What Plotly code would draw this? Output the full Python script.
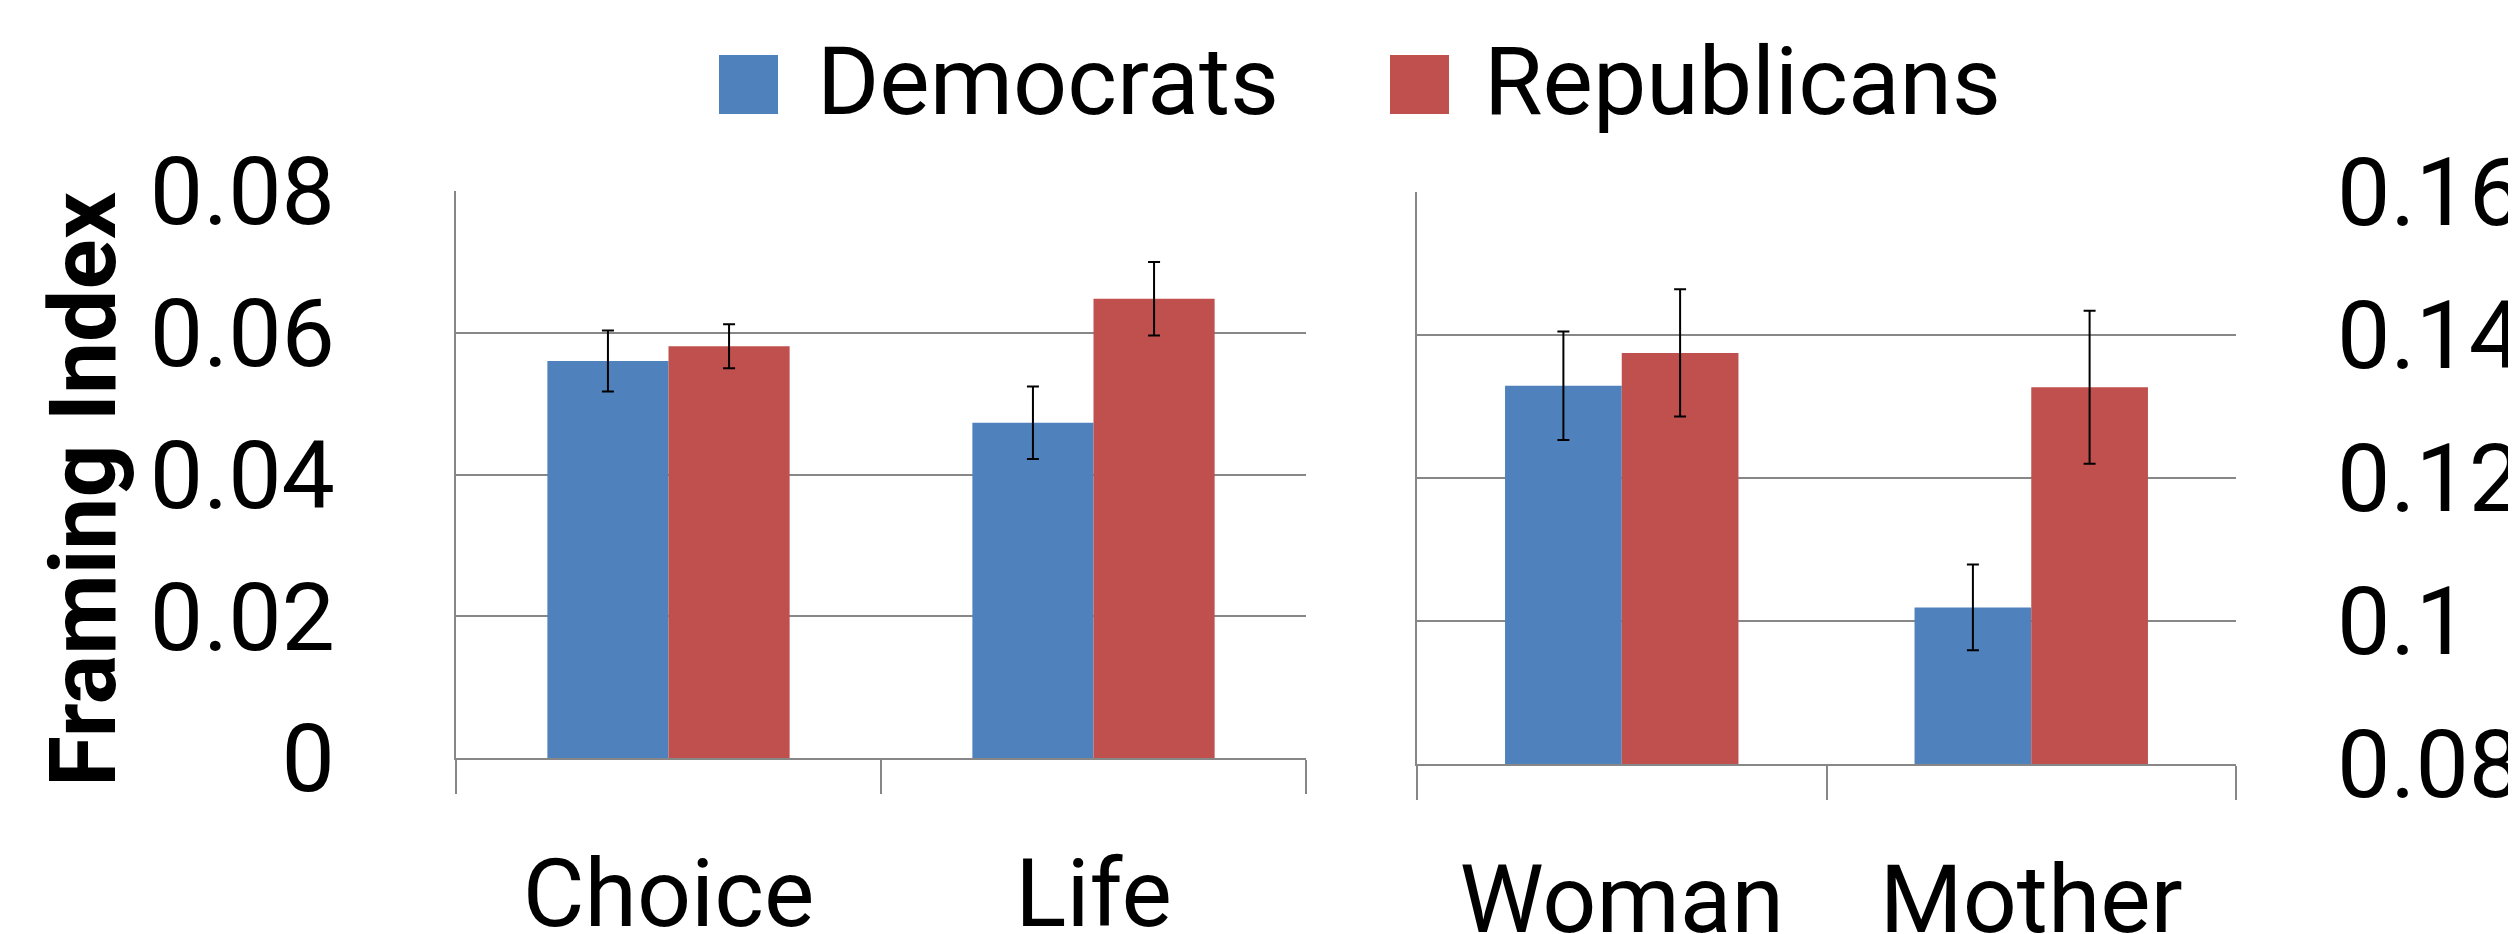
import plotly.graph_objects as go

# ---- data ----
left_categories = ["Choice", "Life"]
right_categories = ["Woman", "Mother"]
dem_left = [0.0560, 0.0473]
rep_left = [0.0581, 0.0648]
dem_left_err = [0.0043, 0.0051]
rep_left_err = [0.0031, 0.0052]
dem_right = [0.1329, 0.1019]
rep_right = [0.1375, 0.1327]
dem_right_err = [0.0076, 0.0060]
rep_right_err = [0.0089, 0.0107]
left_ticks = [0, 0.02, 0.04, 0.06, 0.08]
left_ticktext = ["0", "0.02", "0.04", "0.06", "0.08"]
right_ticks = [0.08, 0.10, 0.12, 0.14, 0.16]
right_ticktext = ["0.08", "0.1", "0.12", "0.14", "0.16"]
series_names = ["Democrats", "Republicans"]
y_title = "Framing Index"

BLUE = "#4F81BD"
RED = "#C0504D"
GRID = "#878787"
FONT = "Roboto, 'Open Sans', sans-serif"
FS = 95

W, H = 2516, 934
OX, OY = 8, 8  # page body margin offset

def err(v):
    return dict(type="data", array=v, visible=True, color="black", thickness=2, width=6)

fig = go.Figure()
fig.add_trace(go.Bar(x=left_categories, y=dem_left, name=series_names[0], marker_color=BLUE,
                     marker_line_width=0, error_y=err(dem_left_err), xaxis="x", yaxis="y"))
fig.add_trace(go.Bar(x=left_categories, y=rep_left, name=series_names[1], marker_color=RED,
                     marker_line_width=0, error_y=err(rep_left_err), xaxis="x", yaxis="y"))
fig.add_trace(go.Bar(x=right_categories, y=dem_right, name=series_names[0], marker_color=BLUE,
                     marker_line_width=0, error_y=err(dem_right_err), xaxis="x2", yaxis="y2"))
fig.add_trace(go.Bar(x=right_categories, y=rep_right, name=series_names[1], marker_color=RED,
                     marker_line_width=0, error_y=err(rep_right_err), xaxis="x2", yaxis="y2"))

def px_x(p):
    return (p - OX) / W

def px_y(p):
    return 1 - (p - OY) / H

xcommon = dict(type="category", tickson="boundaries", ticks="outside", ticklen=34,
               tickcolor=GRID, tickwidth=2, showline=True, linecolor=GRID, linewidth=2,
               showgrid=False, zeroline=False, tickfont=dict(family=FONT, size=FS, color="black"),
               ticklabelstandoff=52, fixedrange=True, automargin=False)

fig.update_layout(
    template="none",
    width=W, height=H,
    margin=dict(l=0, r=0, t=0, b=0, pad=0, autoexpand=False),
    paper_bgcolor="white", plot_bgcolor="white",
    showlegend=False,
    barmode="group", bargap=0.43, bargroupgap=0,
    xaxis=dict(domain=[px_x(456), px_x(1306)], anchor="y", **xcommon),
    xaxis2=dict(domain=[px_x(1417), px_x(2236)], anchor="y2", **xcommon),
    yaxis=dict(domain=[px_y(758), px_y(191)], anchor="x", range=[0, 0.08],
               tickvals=left_ticks, ticktext=left_ticktext, ticks="",
               showgrid=True, gridcolor=GRID, gridwidth=2, zeroline=False,
               showline=True, linecolor=GRID, linewidth=2, automargin=False,
               tickfont=dict(family=FONT, size=FS, color="black"), ticklabelstandoff=100),
    yaxis2=dict(domain=[px_y(764), px_y(192)], anchor="x2", range=[0.08, 0.16], side="left",
                tickvals=right_ticks, showticklabels=False, ticks="",
                showgrid=True, gridcolor=GRID, gridwidth=2, zeroline=False, automargin=False,
                showline=True, linecolor=GRID, linewidth=2),
    yaxis3=dict(domain=[px_y(764), px_y(192)], anchor="x2", overlaying="y2", side="right",
                range=[0.08, 0.16], tickvals=right_ticks, ticktext=right_ticktext, ticks="",
                showgrid=False, zeroline=False, showline=False, automargin=False,
                tickfont=dict(family=FONT, size=FS, color="black"), ticklabelstandoff=100),
)

# dummy trace to activate yaxis3
fig.add_trace(go.Scatter(x=right_categories, y=[None, None], xaxis="x2", yaxis="y3",
                         showlegend=False, hoverinfo="skip"))

# legend (drawn manually for large swatches)
legend_items = [(series_names[0], BLUE, 719, 778, 815), (series_names[1], RED, 1390, 1449, 1482)]
for name, col, x0, x1, tx in legend_items:
    fig.add_shape(type="rect", xref="paper", yref="paper", x0=px_x(x0), x1=px_x(x1),
                  y0=px_y(114), y1=px_y(55), fillcolor=col, line_width=0)
    fig.add_annotation(xref="paper", yref="paper", x=px_x(tx), y=px_y(81), text=name,
                       showarrow=False, xanchor="left", yanchor="middle",
                       font=dict(family=FONT, size=FS, color="black"))

fig.add_annotation(xref="paper", yref="paper", x=px_x(83), y=px_y(490), text="<b>%s</b>" % y_title,
                   textangle=-90, showarrow=False, xanchor="center", yanchor="middle",
                   font=dict(family=FONT, size=93, color="black"))

fig.write_html("out.html", config={"displayModeBar": False})
